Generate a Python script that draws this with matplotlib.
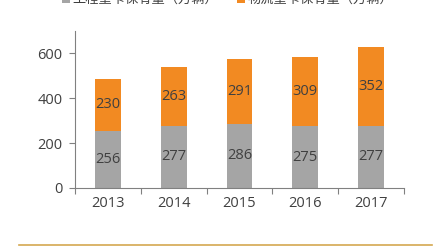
import matplotlib
matplotlib.use("Agg")
import matplotlib.pyplot as plt
from matplotlib.lines import Line2D

years = ["2013", "2014", "2015", "2016", "2017"]
engineering = [256, 277, 286, 275, 277]
logistics = [230, 263, 291, 309, 352]
legend_labels = ["工程重卡保有量（万辆）", "物流重卡保有量（万辆）"]
yticks = [0, 200, 400, 600]

plt.rcParams['font.family'] = ['Open Sans', 'Noto Sans CJK SC', 'DejaVu Sans']

gray = "#a5a5a5"
orange = "#f28a22"
text_col = "#404040"

fig = plt.figure(figsize=(4.42, 2.47), dpi=100)
ax = fig.add_axes([0.1697, 0.2389, 0.7443, 0.6356])

x = range(len(years))
b1 = ax.bar(x, engineering, width=0.39, color=gray, label=legend_labels[0])
b2 = ax.bar(x, logistics, width=0.39, bottom=engineering, color=orange, label=legend_labels[1])

# value labels in the middle of each segment
for i in x:
    ax.text(i, engineering[i] / 2, str(engineering[i]), ha="center", va="center",
            fontsize=10.5, color=text_col)
    ax.text(i, engineering[i] + logistics[i] / 2, str(logistics[i]), ha="center",
            va="center", fontsize=10.5, color=text_col)

ax.set_xlim(-0.5, len(years) - 0.5)
ax.set_ylim(0, 700)
ax.set_yticks(yticks)
ax.set_yticklabels([str(t) for t in yticks], fontsize=10.5, color=text_col)

# ticks at category boundaries, labels centered
ax.set_xticks([i - 0.5 for i in range(len(years) + 1)])
ax.set_xticklabels([])
ax.set_xticks(list(x), minor=True)
ax.set_xticklabels(years, minor=True, fontsize=10.5, color=text_col)
ax.tick_params(axis="x", which="minor", length=0, pad=6)
ax.tick_params(axis="x", which="major", length=4, color="#808080", direction="out")
ax.tick_params(axis="y", length=4, color="#808080", pad=5)

for s in ["top", "right"]:
    ax.spines[s].set_visible(False)
for s in ["left", "bottom"]:
    ax.spines[s].set_color("#808080")
    ax.spines[s].set_linewidth(0.8)

# legend partly cut off at top, as in the reference
fig.legend(handles=[b1, b2], labels=legend_labels, loc="center",
           bbox_to_anchor=(0.515, 1.0), ncol=2, frameon=False, fontsize=9.5,
           handlelength=0.6, handleheight=0.6, columnspacing=1.4, handletextpad=0.2,
           labelcolor=text_col)

# golden rule at bottom
fig.add_artist(Line2D([19 / 442, 432 / 442], [0.008, 0.008], color="#d4a850",
                      linewidth=1.2, transform=fig.transFigure))

fig.savefig("out.png", dpi=100)
